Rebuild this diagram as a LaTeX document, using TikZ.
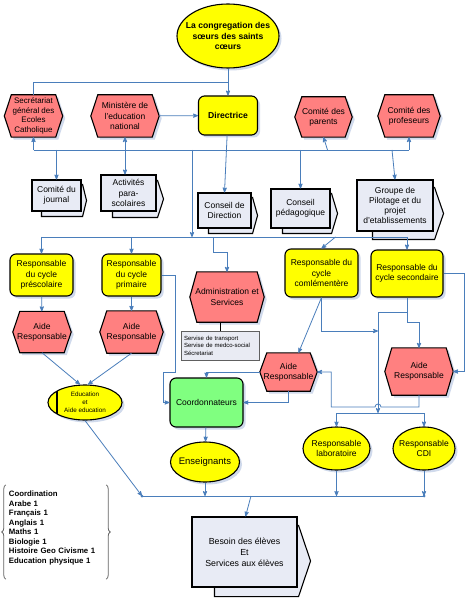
\documentclass[tikz,border=0pt]{standalone}
\usepackage{fontspec}
\setmainfont{Liberation Sans}
\usepackage{tikz}
\usetikzlibrary{arrows, calc, shapes.geometric, shadows, backgrounds, decorations.pathreplacing}

\definecolor{hexred}{RGB}{255,128,128}
\definecolor{boxyellow}{RGB}{255,255,0}
\definecolor{boxgreen}{RGB}{128,255,128}
\definecolor{docgray}{RGB}{232,235,245}
\definecolor{servfill}{RGB}{233,235,243}
\definecolor{servgray}{RGB}{96,96,96}
\definecolor{linkblue}{RGB}{74,126,187}
\definecolor{shadowblue}{RGB}{208,218,236}
\definecolor{bracegray}{RGB}{100,100,100}

\newcommand{\mainlbl}{\fontsize{8.5}{10.3}\selectfont}
\newcommand{\boldlbl}{\fontsize{8.6}{10.2}\selectfont\bfseries}
\newcommand{\smalllbl}{\fontsize{8}{9.5}\selectfont}
\newcommand{\tinylbl}{\fontsize{6}{7.6}\selectfont}
\newcommand{\edulbl}{\fontsize{6.3}{8}\selectfont}
\newcommand{\biglbl}{\fontsize{9.5}{11}\selectfont}
\newcommand{\besoinlbl}{\fontsize{8.8}{10.8}\selectfont}
\newcommand{\subjlbl}{\fontsize{7.8}{9.5}\selectfont\bfseries}

\begin{document}
\begin{tikzpicture} [x=1pt, y=-1pt, >=stealth', align=center,
	softshadow/.style={drop shadow={shadow xshift=2.5pt, shadow yshift=-2.5pt, fill=shadowblue, opacity=1}},
	base/.style={draw=black, line width=1.1pt, inner sep=1pt, font=\mainlbl},
	hexa/.style={rectangle, inner sep=0pt, font=\mainlbl},
	hexfill/.style={softshadow, fill=hexred, draw=black, line width=1.1pt},
	respo/.style={base, softshadow, rectangle, rounded corners=6pt, fill=boxyellow},
	oval/.style={base, softshadow, ellipse, fill=boxyellow, inner xsep=-4pt},
	docu/.style={base, rectangle, fill=docgray},
	stackback/.style={draw=black, line width=1.1pt, fill=docgray},
	servbox/.style={draw=servgray, line width=1pt, fill=servfill, font=\tinylbl, align=left, text width=72pt, inner xsep=3pt, minimum height=29pt},
	subj/.style={font=\subjlbl, align=left, text width=94pt, inner xsep=3pt, minimum height=94pt},
	curly/.style={draw=bracegray, line width=0.8pt, decorate, decoration={brace, amplitude=4pt}},
	link/.style={draw=linkblue, line width=0.8pt}
]

\path[use as bounding box] (0,0) rectangle (468,601);

\node[oval, font=\boldlbl, minimum width=102pt, minimum height=64pt, inner xsep=-7pt]	(cong)	at (228,36)	{La congregation des\\sœurs des saints\\cœurs};
\node[respo, font=\boldlbl, minimum width=59pt, minimum height=39pt]	(dir)	at (228,115.5)	{Directrice};
\node[hexa, font=\smalllbl, minimum width=58pt, minimum height=42pt]	(secr)	at (33.5,116)	{Secrétariat\\général des\\Ecoles\\Catholique};
\node[hexa, minimum width=68pt, minimum height=42pt]	(mini)	at (125,116)	{Ministère de\\l’education\\national};
\node[hexa, minimum width=57pt, minimum height=40pt]	(cpar)	at (323.5,117)	{Comité des\\parents};
\node[hexa, minimum width=62pt, minimum height=42pt]	(cprof)	at (409,116)	{Comité des\\profeseurs};

\node[docu, minimum width=49pt, minimum height=31pt]	(journ)	at (56.5,195.5)	{Comité du\\journal};
\node[docu, minimum width=55pt, minimum height=36pt]	(activ)	at (128.5,193)	{Activités\\para-\\scolaires};
\node[docu, minimum width=53pt, minimum height=35pt]	(cdir)	at (224.5,210.5)	{Conseil de\\Direction};
\node[docu, minimum width=59pt, minimum height=39pt]	(cped)	at (300.5,208.5)	{Conseil\\pédagogique};
\node[docu, minimum width=76pt, minimum height=51pt]	(gpil)	at (395,205.5)	{Groupe de\\Pilotage et du\\projet\\d’etablissements};

\node[respo, minimum width=63pt, minimum height=42pt]	(rpre)	at (41.5,275)	{Responsable\\du cycle\\préscolaire};
\node[respo, minimum width=59pt, minimum height=42pt]	(rpri)	at (131.5,275)	{Responsable\\du cycle\\primaire};
\node[respo, minimum width=73pt, minimum height=48pt]	(rcom)	at (321.5,273)	{Responsable du\\cycle\\comlémentère};
\node[respo, minimum width=72pt, minimum height=47pt]	(rsec)	at (407,273.5)	{Responsable du\\cycle secondaire};

\node[hexa, minimum width=58pt, minimum height=41pt]	(aide1)	at (42,332)	{Aide\\Responsable};
\node[hexa, minimum width=63pt, minimum height=42pt]	(aide2)	at (131.5,332)	{Aide\\Responsable};
\node[hexa, minimum width=74pt, minimum height=50pt]	(admin)	at (227,297)	{Administration et\\Services};
\node[servbox]	(serv)	at (220,345.5)	{Servise de transport\\Servise de medco-social\\Sécretariat};
\node[hexa, minimum width=57pt, minimum height=38pt]	(aide3)	at (288.5,372)	{Aide\\Responsable};
\node[hexa, minimum width=68pt, minimum height=47pt]	(aide4)	at (419,371.5)	{Aide\\Responsable};

\node[oval, font=\edulbl, minimum width=74pt, minimum height=35pt,
	path picture={\draw[line width=1.1pt] ([xshift=9pt]path picture bounding box.north west) -- ([xshift=9pt]path picture bounding box.south west);}]
	(educ)	at (85,402.5)	{Education\\et\\Aide education};
\node[respo, fill=boxgreen, minimum width=73pt, minimum height=49pt]	(coord)	at (206.5,402.5)	{Coordonnateurs};
\node[oval, font=\biglbl, minimum width=69pt, minimum height=40pt]	(ens)	at (205,462)	{Enseignants};
\node[oval, minimum width=67pt, minimum height=43pt]	(rlab)	at (336.5,448.5)	{Responsable\\laboratoire};
\node[oval, minimum width=62pt, minimum height=43pt]	(rcdi)	at (424,448.5)	{Responsable\\CDI};

\node[docu, font=\besoinlbl, minimum width=105pt, minimum height=70pt]	(bes)	at (244.5,552)	{Besoin des élèves\\Et\\Services aux élèves};
\node[subj]	(list)	at (56,532)	{Coordination\\Arabe 1\\Français 1\\Anglais 1\\Maths 1\\Biologie 1\\Histoire Geo Civisme 1\\Education physique 1\\\mbox{}};

\begin{scope}[on background layer]
\fill[white] (0,0) rectangle (468,601);
\foreach \n in {secr, mini, cpar, cprof, aide1, aide2, admin, aide3, aide4}
	\filldraw[hexfill] (\n.west) -- ($(\n.north west)+(7,0)$) -- ($(\n.north east)+(-7,0)$) -- (\n.east)
		-- ($(\n.south east)+(-7,0)$) -- ($(\n.south west)+(7,0)$) -- cycle;
\foreach \n/\dx/\dy/\tp in {journ/10/5/5, activ/12/6/7, cdir/11/5/6, cped/12/5/7, gpil/16/8/10, bes/23/9/13}
	\filldraw[stackback] ($(\n.south west)+(\dx,\dy)$) -- ($(\n.south east)+(1,\dy)$) -- ($(\n.east)+(\tp,\dy)$)
		-- ($(\n.north east)+(1,\dy)$) -- ($(\n.north west)+(\dx,\dy)$) -- cycle;
\end{scope}

\draw[curly] (list.south west) -- (list.north west);
\draw[curly] (list.north east) -- (list.south east);

\coordinate (busA) at (0,82);
\coordinate (busB) at (0,150);
\coordinate (busC) at (0,237);
\coordinate (busD) at (0,413);
\coordinate (busE) at (0,496);
\coordinate (drop) at (192,150);
\coordinate (vtop) at (378,312);
\coordinate (vjoin) at (378,331);
\coordinate (hop) at (378,407);
\coordinate (eL) at (142,496);
\coordinate (eM) at (251,496);

\draw[link, ->]	(cong) -- (dir);
\draw[link]	(secr.north) |- (dir.north |- busA);
\draw[link, ->]	(mini) -- (dir);

\draw[link]	(secr.south |- busB) -- (cprof.south |- busB);
\draw[link, ->]	(secr.south |- busB) -- (secr.south);
\draw[link, ->]	(journ.north |- busB) -- (journ.north);
\draw[link, <->]	(mini.south) -- (mini.south |- activ.north);
\draw[link, ->]	(dir) -- (cdir.north);
\draw[link, ->]	(cped.north |- busB) -- (cped.north);
\draw[link, ->]	($(gpil.north |- busB)+(-3,0)$) -- (gpil.north);
\draw[link, ->]	($(cpar.south |- busB)+(4,0)$) -- (cpar.south);
\draw[link, ->]	(cprof.south |- busB) -- (cprof.south);
\draw[link, ->]	(drop) -- (drop |- busC);

\draw[link]	(rpre.north |- busC) -- (rsec.north |- busC);
\draw[link, ->]	(rpre.north |- busC) -- (rpre.north);
\draw[link, ->]	(rpri.north |- busC) -- (rpri.north);
\draw[link, ->]	($(admin.north |- busC)+(-14,0)$) |- ($(admin.north)+(0,-19)$) -- (admin.north);
\draw[link, ->]	($(rcom.north |- busC)+(14,0)$) -- (rcom.north);
\draw[link, ->]	(rsec.north |- busC) -- (rsec.north);

\draw[link, ->]	(rpre) -- (aide1);
\draw[link, ->]	(rpri) -- (aide2);
\draw[link, ->]	(aide1.south) -- ($(educ.north)+(-5,0)$);
\draw[link, ->]	(aide2.south) -- ($(educ.north)+(3,0)$);
\draw[link, ->]	(rpri.east) -- ++(14,0) -- ++(0,97) -- ++(-12,0) |- (coord.west);
\draw[line width=1pt]	(admin.south -| serv.north) -- (serv.north);

\draw[link, ->]	(coord) -- (ens);
\draw[link, ->]	(aide3.west) -| (coord.north);
\draw[link, ->]	(aide3.south) |- (coord.east);
\draw[link, ->]	(rcom.south) -- ($(aide3.north)+(10,0)$);
\draw[link, ->]	(rcom.south) |- (vjoin);
\draw[link, ->]	(rsec.south) |- (vtop) -- (vtop |- busD);
\draw[link, ->]	(rsec.south) -- ++(0,25) -| (aide4.north);
\draw[link, ->]	(rsec.east) -- ++(21,0) |- (aide4.east);
\draw[link, ->]	(aide4.south) |- ($(hop)+(3,0)$) arc[start angle=0, end angle=-180, radius=3]
	-- ($(aide3.east |- hop)+(14,0)$) |- (aide3.east);

\draw[link]	(rlab.north |- busD) -- (rcdi.north |- busD);
\draw[link, ->]	(rlab.north |- busD) -- (rlab.north);
\draw[link, ->]	(rcdi.north |- busD) -- (rcdi.north);

\draw[link]	(eL) -- (rcdi.south |- busE);
\draw[link, ->]	(educ.south) -- (eL);
\draw[link, ->]	(ens) -- (ens |- busE);
\draw[link, ->]	(rlab) -- (rlab |- busE);
\draw[link, ->]	(rcdi) -- (rcdi |- busE);
\draw[link, ->]	(eM) -- ($(bes.north)+(1,0)$);
\fill[linkblue]	(eL) circle (1.5) (rcdi.south |- busE) circle (1.5);

\end{tikzpicture}
\end{document}
